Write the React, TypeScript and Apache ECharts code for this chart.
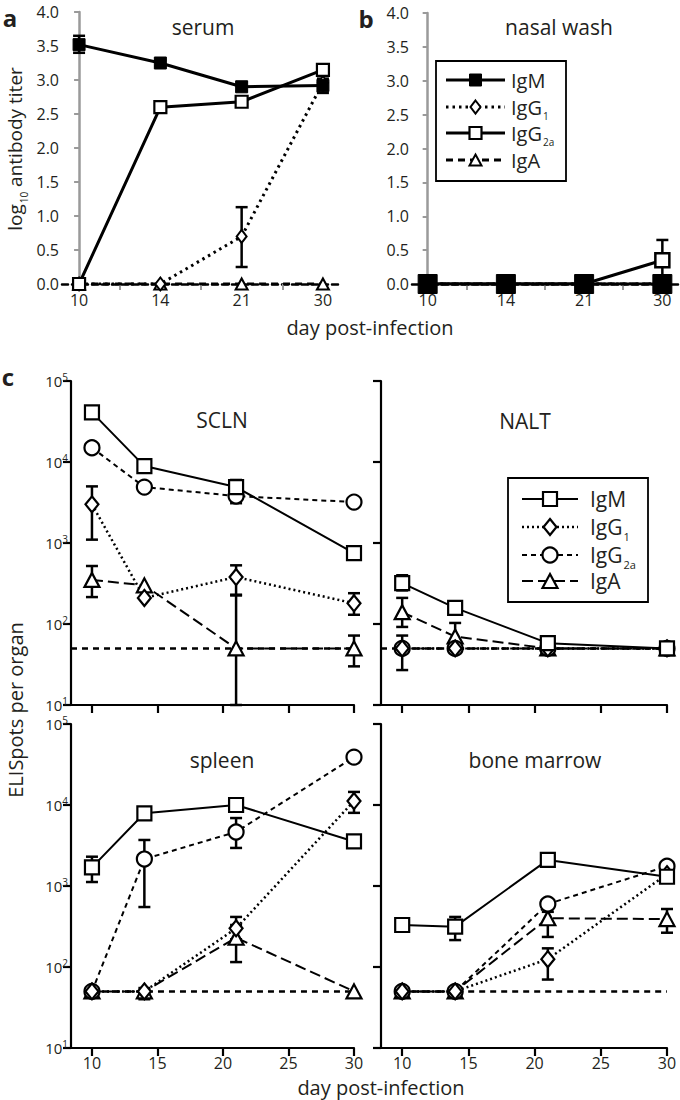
import React, { useEffect, useRef } from "react";
import * as echarts from "echarts";

// ---------- data ----------
const dayLabels = ["10", "14", "21", "30"];
const dayIdx = [0, 1, 2, 3];
const days = [10, 14, 21, 30];

// panel a: serum, log10 antibody titer
const serumIgM = [3.52, 3.25, 2.9, 2.92];
const serumIgMErr = [[3.4, 3.65], [3.2, 3.3], [2.84, 2.97], [2.81, 3.02]];
const serumIgG1 = [0, 0, 0.7, 2.96];
const serumIgG1Err = [null, null, [0.25, 1.13], null];
const serumIgG2a = [0, 2.6, 2.68, 3.15];
const serumIgG2aErr = [null, [2.56, 2.64], [2.63, 2.73], [3.07, 3.22]];
const serumIgA = [0, 0, 0, 0];

// panel b: nasal wash
const nasalIgM = [0, 0, 0, 0];
const nasalIgG1 = [0, 0, 0, 0];
const nasalIgG2a = [0, 0, 0, 0.35];
const nasalIgG2aErr = [null, null, null, [0.05, 0.65]];
const nasalIgA = [0, 0, 0, 0];

// panel c: ELISpots per organ
const detectionLimit = 50;

const sclnIgM = [41000, 8900, 4900, 750];
const sclnIgMErr = [null, null, [4000, 6000], null];
const sclnIgG1 = [3000, 210, 380, 180];
const sclnIgG1Err = [[1100, 5000], null, [230, 530], [130, 240]];
const sclnIgG2a = [15000, 4900, 3800, 3200];
const sclnIgG2aErr = [null, null, [3100, 4400], null];
const sclnIgA = [350, 300, 50, 50];
const sclnIgAErr = [[215, 520], null, [10, 225], [30, 72]];

const naltIgM = [320, 158, 58, 50];
const naltIgMErr = [[260, 400], null, null, null];
const naltIgG1 = [50, 50, 50, 50];
const naltIgG1Err = [[27, 72], [45, 55], null, null];
const naltIgG2a = [50, 50, 50, 50];
const naltIgA = [140, 70, 50, 50];
const naltIgAErr = [[92, 210], [50, 103], null, null];

const spleenIgM = [1700, 7900, 10000, 3550];
const spleenIgMErr = [[1120, 2300], [6800, 8600], [8500, 11500], null];
const spleenIgG1 = [50, 50, 300, 11200];
const spleenIgG1Err = [null, null, [220, 415], [8000, 14500]];
const spleenIgG2a = [50, 2150, 4650, 39000];
const spleenIgG2aErr = [null, [550, 3700], [2950, 6900], null];
const spleenIgA = [50, 50, 230, 50];
const spleenIgAErr = [null, [40, 55], [115, 330], null];

const marrowIgM = [330, 315, 2100, 1300];
const marrowIgMErr = [[290, 360], [215, 415], null, null];
const marrowIgG1 = [50, 50, 125, 1400];
const marrowIgG1Err = [null, null, [70, 170], null];
const marrowIgG2a = [50, 50, 600, 1750];
const marrowIgA = [50, 50, 400, 390];
const marrowIgAErr = [null, null, [235, 480], [265, 520]];

const logTicks = [10, 100, 1000, 10000, 100000];
const cDayTicks = [10, 15, 20, 25, 30];

// ---------- styling ----------
const FONT = '"Open Sans", "Noto Sans", sans-serif';
const INK = "#231f20";
const GRAY = "#9a9a9a";

type Sty = { symbol: string; size: any; fill: string; bw: number; lw: number; dash: any };

const A_STY: Record<string, Sty> = {
  IgM: { symbol: "rect", size: 12, fill: "#000", bw: 1, lw: 3, dash: "solid" },
  IgG1: { symbol: "diamond", size: [10, 13], fill: "#fff", bw: 2, lw: 3, dash: [2.5, 4] },
  IgG2a: { symbol: "rect", size: 12, fill: "#fff", bw: 2.2, lw: 3, dash: "solid" },
  IgA: { symbol: "triangle", size: [12, 11], fill: "#fff", bw: 2, lw: 3, dash: [7, 5] },
};
const B_STY: Record<string, Sty> = {
  ...A_STY,
  IgM: { symbol: "rect", size: 19, fill: "#000", bw: 1, lw: 3, dash: "solid" },
  IgG2a: { symbol: "rect", size: 14, fill: "#fff", bw: 2.5, lw: 3, dash: "solid" },
};
const C_STY: Record<string, Sty> = {
  IgM: { symbol: "rect", size: 14, fill: "#fff", bw: 2.2, lw: 2, dash: "solid" },
  IgG1: { symbol: "diamond", size: [13, 16], fill: "#fff", bw: 2.2, lw: 2.5, dash: [2, 3] },
  IgG2a: { symbol: "circle", size: 15, fill: "#fff", bw: 2.2, lw: 2, dash: [5, 4] },
  IgA: { symbol: "triangle", size: [15, 14], fill: "#fff", bw: 2.2, lw: 2, dash: [11, 5] },
};

function lineSeries(name: string, xs: number[], ys: number[], xi: number, sty: Sty) {
  return {
    type: "line",
    name,
    xAxisIndex: xi,
    yAxisIndex: xi,
    z: 3,
    data: xs.map((x, i) => [x, ys[i]]),
    symbol: sty.symbol,
    symbolSize: sty.size,
    showAllSymbol: true,
    itemStyle: { color: sty.fill, borderColor: "#000", borderWidth: sty.bw },
    lineStyle: { color: "#000", width: sty.lw, type: sty.dash },
    emphasis: { disabled: true },
    silent: true,
  };
}

function errSeries(xs: number[], errs: any[], xi: number, lw: number, cap: number) {
  const data: number[][] = [];
  errs.forEach((e, i) => {
    if (e) data.push([xs[i], e[0], e[1]]);
  });
  return {
    type: "custom",
    xAxisIndex: xi,
    yAxisIndex: xi,
    z: 1,
    silent: true,
    data,
    encode: { x: 0, y: [1, 2] },
    renderItem: (_p: any, api: any) => {
      const lo = api.coord([api.value(0), api.value(1)]);
      const hi = api.coord([api.value(0), api.value(2)]);
      const st = { stroke: "#000", lineWidth: lw };
      return {
        type: "group",
        children: [
          { type: "line", shape: { x1: lo[0], y1: lo[1], x2: hi[0], y2: hi[1] }, style: st },
          { type: "line", shape: { x1: lo[0] - cap, y1: lo[1], x2: lo[0] + cap, y2: lo[1] }, style: st },
          { type: "line", shape: { x1: hi[0] - cap, y1: hi[1], x2: hi[0] + cap, y2: hi[1] }, style: st },
        ],
      };
    },
  };
}

function lodSeries(xi: number, x0: number) {
  return {
    type: "line",
    xAxisIndex: xi,
    yAxisIndex: xi,
    z: 0,
    silent: true,
    symbol: "none",
    data: [
      [x0, detectionLimit],
      [30, detectionLimit],
    ],
    lineStyle: { color: "#000", width: 2.5, type: [6, 5] },
  };
}

const SUB_RICH = (size: number) => ({
  n: { fontSize: size, fontFamily: FONT, color: INK, lineHeight: size + 4 },
  s: { fontSize: Math.round(size * 0.52), fontFamily: FONT, color: INK, verticalAlign: "bottom", lineHeight: Math.round(size * 0.55), padding: [0, 0, -2, 1] },
});

function txt(text: string, x: number, y: number, size: number, opts: any = {}) {
  return {
    type: "text",
    x,
    y,
    rotation: opts.rotation || 0,
    silent: true,
    style: {
      text,
      fontSize: size,
      fontFamily: FONT,
      fontWeight: opts.bold ? "bold" : "normal",
      fill: INK,
      align: "center",
      verticalAlign: "middle",
      rich: opts.rich,
    },
  };
}

function legendSymbol(sty: Sty, cx: number, cy: number) {
  const [w, h] = Array.isArray(sty.size) ? sty.size : [sty.size, sty.size];
  const style = { fill: sty.fill, stroke: "#000", lineWidth: sty.bw };
  if (sty.symbol === "rect") return { type: "rect", shape: { x: cx - w / 2, y: cy - h / 2, width: w, height: h }, style };
  if (sty.symbol === "circle") return { type: "circle", shape: { cx, cy, r: w / 2 }, style };
  if (sty.symbol === "diamond")
    return { type: "polygon", shape: { points: [[cx, cy - h / 2], [cx + w / 2, cy], [cx, cy + h / 2], [cx - w / 2, cy]] }, style };
  return { type: "polygon", shape: { points: [[cx, cy - h / 2], [cx + w / 2, cy + h / 2], [cx - w / 2, cy + h / 2]] }, style };
}

function legend(box: number[], rows: number[], lx: number[], tx: number, size: number, stys: Record<string, Sty>) {
  const names = ["IgM", "IgG1", "IgG2a", "IgA"];
  const labels = ["{n|IgM}", "{n|IgG}{s|1}", "{n|IgG}{s|2a}", "{n|IgA}"];
  const children: any[] = [
    { type: "rect", shape: { x: box[0], y: box[1], width: box[2] - box[0], height: box[3] - box[1] }, style: { fill: "#fff", stroke: "#000", lineWidth: 1.8 } },
  ];
  names.forEach((n, i) => {
    const s = stys[n];
    const y = rows[i];
    children.push({
      type: "line",
      shape: { x1: lx[0], y1: y, x2: lx[1], y2: y },
      style: { stroke: "#000", lineWidth: s.lw, lineDash: s.dash === "solid" ? null : s.dash },
    });
    children.push(legendSymbol(s, (lx[0] + lx[1]) / 2, y));
    children.push({
      type: "text",
      x: tx,
      y,
      silent: true,
      style: { text: labels[i], rich: SUB_RICH(size), fontSize: size, fontFamily: FONT, fill: INK, align: "left", verticalAlign: "middle" },
    });
  });
  return { type: "group", silent: true, z: 100, children };
}

function buildOption() {
  const grids = [
    { left: 62, top: 12, width: 278, height: 272 },
    { left: 412, top: 13, width: 266, height: 271 },
    { left: 71, top: 381, width: 283, height: 324 },
    { left: 381, top: 381, width: 286, height: 324 },
    { left: 71, top: 724, width: 283, height: 324 },
    { left: 381, top: 724, width: 286, height: 324 },
  ];

  const abX = (gi: number, min: number, max: number) => ({
    gridIndex: gi,
    type: "value",
    min,
    max,
    axisLine: { show: true, onZero: false, lineStyle: { color: "#000", width: 2.5, type: [6, 4] } },
    axisTick: { show: true, customValues: [0.5, 1.5, 2.5], length: 6, lineStyle: { color: GRAY, width: 2 } },
    axisLabel: {
      customValues: dayIdx,
      formatter: (v: number) => dayLabels[Math.round(v)],
      fontSize: 16,
      fontFamily: FONT,
      color: INK,
      margin: 8,
    },
    splitLine: { show: false },
  });
  const abY = (gi: number) => ({
    gridIndex: gi,
    type: "value",
    min: 0,
    max: 4,
    interval: 0.5,
    axisLine: { show: true, lineStyle: { color: GRAY, width: 2.5 } },
    axisTick: { show: true, length: 5, lineStyle: { color: GRAY, width: 2 } },
    axisLabel: { formatter: (v: number) => v.toFixed(1), fontSize: 16, fontFamily: FONT, color: INK, margin: 3 },
    splitLine: { show: false },
  });
  const cX = (gi: number, labels: boolean) => ({
    gridIndex: gi,
    type: "value",
    min: 8.4,
    max: 30,
    axisLine: { show: true, onZero: false, lineStyle: { color: "#000", width: 2.2 } },
    axisTick: { show: true, customValues: cDayTicks, length: 8, lineStyle: { color: "#000", width: 2.2 } },
    axisLabel: { show: labels, customValues: cDayTicks, fontSize: 16, fontFamily: FONT, color: INK, margin: 7 },
    splitLine: { show: false },
  });
  const cY = (gi: number, labels: boolean) => ({
    gridIndex: gi,
    type: "log",
    logBase: 10,
    min: 10,
    max: 100000,
    axisLine: { show: true, lineStyle: { color: "#000", width: 2.2 } },
    axisTick: { show: true, length: 8, lineStyle: { color: "#000", width: 2.2 } },
    axisLabel: {
      show: labels,
      customValues: logTicks,
      margin: 3,
      formatter: (v: number) => `{b|10}{s|${Math.round(Math.log10(v))}}`,
      rich: {
        b: { fontSize: 15, fontFamily: FONT, color: INK },
        s: { fontSize: 10, fontFamily: FONT, color: INK, verticalAlign: "top", padding: [0, 0, 8, 0] },
      },
    },
    splitLine: { show: false },
    minorTick: { show: false },
  });

  const xAxis = [abX(0, -0.21, 3.21), abX(1, -0.2, 3.2), cX(2, false), cX(3, false), cX(4, true), cX(5, true)];
  const yAxis = [abY(0), abY(1), cY(2, true), cY(3, false), cY(4, true), cY(5, false)];

  const series: any[] = [];
  // panel a
  series.push(errSeries(dayIdx, serumIgMErr, 0, 2.5, 6));
  series.push(errSeries(dayIdx, serumIgG1Err, 0, 2.5, 6));
  series.push(errSeries(dayIdx, serumIgG2aErr, 0, 2.5, 6));
  series.push(lineSeries("IgA", dayIdx, serumIgA, 0, A_STY.IgA));
  series.push(lineSeries("IgG1", dayIdx, serumIgG1, 0, A_STY.IgG1));
  series.push(lineSeries("IgG2a", dayIdx, serumIgG2a, 0, A_STY.IgG2a));
  series.push(lineSeries("IgM", dayIdx, serumIgM, 0, A_STY.IgM));
  // panel b
  series.push(errSeries(dayIdx, nasalIgG2aErr, 1, 2.5, 6));
  series.push(lineSeries("IgA", dayIdx, nasalIgA, 1, B_STY.IgA));
  series.push(lineSeries("IgG1", dayIdx, nasalIgG1, 1, B_STY.IgG1));
  series.push(lineSeries("IgG2a", dayIdx, nasalIgG2a, 1, B_STY.IgG2a));
  series.push(lineSeries("IgM", dayIdx, nasalIgM, 1, B_STY.IgM));

  const cPanels = [
    { gi: 2, lod: 8.4, IgM: [sclnIgM, sclnIgMErr], IgG1: [sclnIgG1, sclnIgG1Err], IgG2a: [sclnIgG2a, sclnIgG2aErr], IgA: [sclnIgA, sclnIgAErr] },
    { gi: 3, lod: 8.4, IgM: [naltIgM, naltIgMErr], IgG1: [naltIgG1, naltIgG1Err], IgG2a: [naltIgG2a, null], IgA: [naltIgA, naltIgAErr] },
    { gi: 4, lod: 10, IgM: [spleenIgM, spleenIgMErr], IgG1: [spleenIgG1, spleenIgG1Err], IgG2a: [spleenIgG2a, spleenIgG2aErr], IgA: [spleenIgA, spleenIgAErr] },
    { gi: 5, lod: 10, IgM: [marrowIgM, marrowIgMErr], IgG1: [marrowIgG1, marrowIgG1Err], IgG2a: [marrowIgG2a, null], IgA: [marrowIgA, marrowIgAErr] },
  ];
  cPanels.forEach((p: any) => {
    series.push(lodSeries(p.gi, p.lod));
    ["IgM", "IgG1", "IgG2a", "IgA"].forEach((k) => {
      if (p[k][1]) series.push(errSeries(days, p[k][1], p.gi, 2.5, 6));
    });
    ["IgA", "IgG2a", "IgG1", "IgM"].forEach((k) => {
      series.push(lineSeries(k, days, p[k][0], p.gi, C_STY[k]));
    });
  });

  const graphic: any[] = [
    txt("a", 10, 17, 24, { bold: true }),
    txt("b", 366, 18, 24, { bold: true }),
    txt("c", 8, 376, 24, { bold: true }),
    txt("serum", 203, 27, 21),
    txt("nasal wash", 559, 27, 21),
    txt("day post-infection", 370, 327, 20),
    txt("{n|log}{s|10}{n| antibody titer}", 15, 149, 19, { rotation: Math.PI / 2, rich: SUB_RICH(19) }),
    txt("SCLN", 222, 420, 21),
    txt("NALT", 525, 421, 21),
    txt("spleen", 222, 760, 21),
    txt("bone marrow", 535, 760, 21),
    txt("day post-infection", 381, 1087, 20),
    txt("ELISpots per organ", 15, 710, 20, { rotation: Math.PI / 2 }),
    legend([436, 61, 566, 181], [80, 107, 133, 160], [446, 505], 511, 20, A_STY),
    legend([508, 478, 648, 602], [499, 527, 555, 581], [522, 578], 590, 21, C_STY),
  ];

  return {
    animation: false,
    backgroundColor: "#fff",
    grid: grids,
    xAxis,
    yAxis,
    series,
    graphic,
  };
}

export default function App() {
  const ref = useRef<HTMLDivElement>(null);
  useEffect(() => {
    if (!ref.current) return;
    const chart = echarts.init(ref.current, undefined, { renderer: "svg" });
    chart.setOption(buildOption() as any);
    return () => chart.dispose();
  }, []);
  return <div ref={ref} style={{ position: "absolute", left: 0, top: 0, width: 680, height: 1100 }} />;
}
